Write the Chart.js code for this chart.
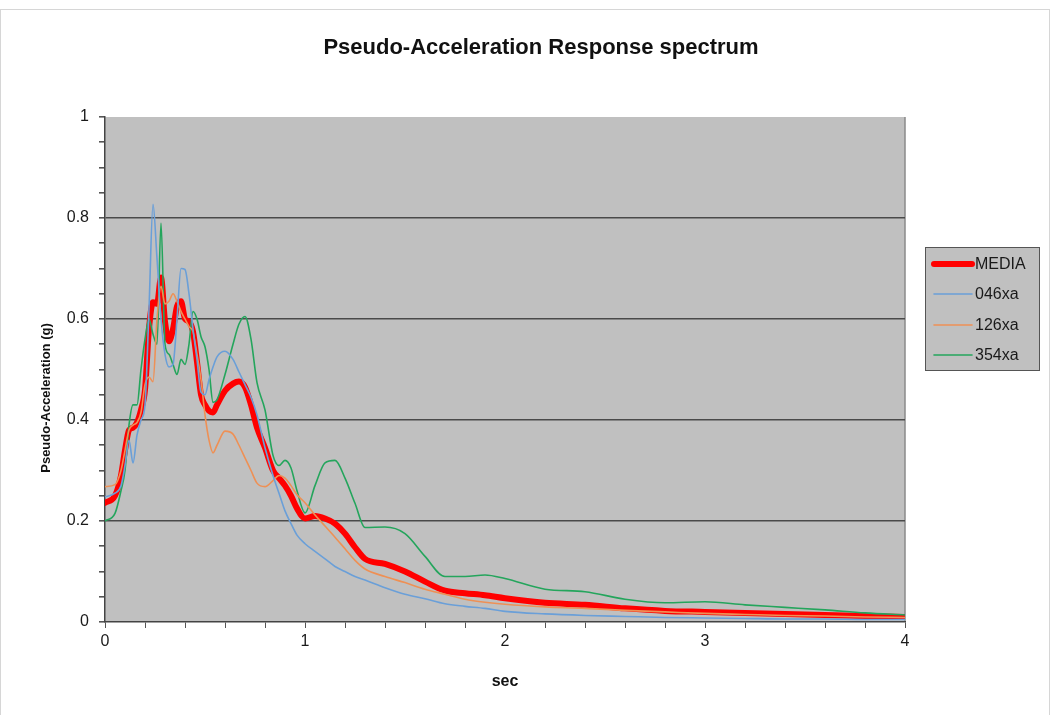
<!DOCTYPE html>
<html>
<head>
<meta charset="utf-8">
<script src="https://cdn.jsdelivr.net/npm/chart.js@4/dist/chart.umd.min.js"></script>
<style>
html,body{margin:0;padding:0;background:#ffffff;}
#wrap{position:relative;width:1059px;height:715px;}
</style>
</head>
<body>
<div id="wrap"><canvas id="c" width="1059" height="715"></canvas></div>
<script>
// Period (sec)
const periods = [0, 0.05, 0.08, 0.1, 0.12, 0.14, 0.16, 0.18, 0.2, 0.22, 0.24, 0.26, 0.28, 0.3, 0.32, 0.34, 0.36, 0.38, 0.4, 0.42, 0.44, 0.46, 0.48, 0.5, 0.52, 0.54, 0.56,
  0.6, 0.64, 0.67, 0.7, 0.73, 0.76, 0.8, 0.84, 0.87, 0.9, 0.93, 0.96, 1.0,
  1.05, 1.1, 1.15, 1.2, 1.25, 1.3,
  1.4, 1.5, 1.6, 1.7, 1.8, 1.9, 2.0,
  2.2, 2.4, 2.6, 2.8, 3.0, 3.2, 3.4, 3.6, 3.8, 4.0];

// Pseudo-acceleration (g)
const media = [0.236, 0.25, 0.29, 0.34, 0.38, 0.385, 0.395, 0.42, 0.46, 0.58, 0.633, 0.63, 0.682, 0.595, 0.556, 0.58, 0.625, 0.635, 0.6, 0.595, 0.575, 0.515, 0.45, 0.43, 0.418, 0.415, 0.43,
  0.458, 0.472, 0.476, 0.465, 0.43, 0.385, 0.345, 0.3, 0.285, 0.27, 0.25, 0.225, 0.205,
  0.21, 0.205, 0.195, 0.175, 0.148, 0.125,
  0.115, 0.1, 0.08, 0.062, 0.057, 0.053, 0.047,
  0.038, 0.034, 0.027, 0.022, 0.02, 0.018, 0.016, 0.014, 0.012, 0.01];

const s046xa = [0.248, 0.255, 0.27, 0.31, 0.36, 0.315, 0.37, 0.40, 0.43, 0.62, 0.827, 0.72, 0.6, 0.53, 0.505, 0.51, 0.6, 0.7, 0.698, 0.65, 0.58, 0.52, 0.455, 0.45, 0.48, 0.505, 0.525,
  0.536, 0.52, 0.495, 0.47, 0.445, 0.41, 0.345, 0.29, 0.255, 0.22, 0.195, 0.172, 0.155,
  0.14, 0.125, 0.11, 0.1, 0.09, 0.083,
  0.068, 0.055, 0.046, 0.036, 0.031, 0.027, 0.021,
  0.016, 0.013, 0.011, 0.009, 0.008, 0.007, 0.006, 0.006, 0.005, 0.005];

const s126xa = [0.268, 0.272, 0.3, 0.34, 0.38, 0.39, 0.395, 0.415, 0.47, 0.485, 0.476, 0.6, 0.665, 0.63, 0.635, 0.65, 0.635, 0.615, 0.6, 0.585, 0.575, 0.53, 0.48, 0.41, 0.36, 0.335, 0.35,
  0.378, 0.372, 0.35, 0.325, 0.3, 0.275, 0.268, 0.28, 0.29, 0.285, 0.27, 0.252, 0.236,
  0.212, 0.19, 0.168, 0.145, 0.122, 0.105,
  0.09, 0.078, 0.065, 0.055, 0.045, 0.039, 0.035,
  0.03, 0.027, 0.023, 0.02, 0.017, 0.015, 0.013, 0.012, 0.01, 0.009];

const s354xa = [0.2, 0.215, 0.26, 0.3, 0.39, 0.43, 0.43, 0.5, 0.56, 0.6, 0.57, 0.55, 0.79, 0.55, 0.53, 0.51, 0.49, 0.52, 0.51, 0.55, 0.615, 0.6, 0.565, 0.545, 0.5, 0.435, 0.44,
  0.49, 0.55, 0.59, 0.605, 0.56, 0.474, 0.42, 0.33, 0.31, 0.32, 0.305, 0.26, 0.216,
  0.27, 0.315, 0.32, 0.285, 0.235, 0.187,
  0.188, 0.175, 0.13, 0.09, 0.09, 0.093, 0.086,
  0.065, 0.06, 0.045, 0.038, 0.04, 0.034, 0.029, 0.024, 0.018, 0.014];

const seriesNames = ['MEDIA', '046xa', '126xa', '354xa'];
const xMajorTicks = [0, 1, 2, 3, 4];
const yMajorTicks = [0, 0.2, 0.4, 0.6, 0.8, 1];
const chartTitle = 'Pseudo-Acceleration Response spectrum';
const yAxisTitle = 'Pseudo-Acceleration (g)';
const xAxisTitle = 'sec';

const FONT = "'Liberation Sans', Arial, sans-serif";
const toPts = arr => periods.map((t, i) => ({x: t, y: arr[i]}));
const isMajor = (v, list) => list.some(m => Math.abs(m - v) < 1e-6);

const plotBg = {
  id: 'plotBg',
  beforeDraw(chart) {
    const {ctx, chartArea: a} = chart;
    ctx.save();
    ctx.strokeStyle = '#d6d6d6';
    ctx.lineWidth = 1;
    ctx.strokeRect(0.5, 9.5, 1049, 710);
    ctx.fillStyle = '#c0c0c0';
    ctx.fillRect(a.left, a.top, a.right - a.left, a.bottom - a.top);
    ctx.strokeStyle = '#8a8a8a';
    ctx.lineWidth = 1.5;
    ctx.beginPath();
    ctx.moveTo(a.right, a.top); ctx.lineTo(a.right, a.bottom);
    ctx.stroke();
    // chart title, centred on the full chart width
    ctx.fillStyle = '#111';
    ctx.font = 'bold 22px ' + FONT;
    ctx.textAlign = 'center';
    ctx.textBaseline = 'middle';
    ctx.fillText(chartTitle, 541, 48);
    // value axis title
    ctx.save();
    ctx.translate(46, 398);
    ctx.rotate(-Math.PI / 2);
    ctx.font = 'bold 13px ' + FONT;
    ctx.fillText(yAxisTitle, 0, 0);
    ctx.restore();
    ctx.restore();
  }
};

const boxLegend = {
  id: 'boxLegend',
  afterDraw(chart) {
    const {ctx} = chart;
    const x = 925, y = 247, w = 114, h = 123;
    ctx.save();
    ctx.fillStyle = '#c0c0c0';
    ctx.fillRect(x, y, w, h);
    ctx.strokeStyle = '#555555';
    ctx.lineWidth = 1;
    ctx.strokeRect(x + 0.5, y + 0.5, w, h);
    const rows = [264, 294, 325, 355];
    chart.data.datasets.forEach((ds, i) => {
      const ry = rows[i];
      ctx.strokeStyle = ds.borderColor;
      ctx.lineWidth = ds.borderWidth;
      ctx.lineCap = 'round';
      ctx.beginPath();
      ctx.moveTo(934, ry); ctx.lineTo(972, ry);
      ctx.stroke();
      ctx.fillStyle = '#1a1a1a';
      ctx.font = '16px ' + FONT;
      ctx.textBaseline = 'middle';
      ctx.textAlign = 'left';
      ctx.fillText(ds.label, 975, ry + 1);
    });
    ctx.restore();
  }
};

new Chart(document.getElementById('c'), {
  type: 'line',
  data: {
    datasets: [
      {label: seriesNames[0], data: toPts(media), borderColor: '#ff0000', borderWidth: 6, order: 10},
      {label: seriesNames[1], data: toPts(s046xa), borderColor: '#6a9fd8', borderWidth: 1.6, order: 1},
      {label: seriesNames[2], data: toPts(s126xa), borderColor: '#ee9055', borderWidth: 1.6, order: 2},
      {label: seriesNames[3], data: toPts(s354xa), borderColor: '#24a55c', borderWidth: 1.6, order: 3}
    ]
  },
  options: {
    responsive: false,
    animation: false,
    devicePixelRatio: 1,
    layout: {padding: {top: 117, right: 154, bottom: 0, left: 0}},
    elements: {
      point: {radius: 0, hoverRadius: 0},
      line: {cubicInterpolationMode: 'monotone', fill: false, borderJoinStyle: 'round', borderCapStyle: 'round'}
    },
    plugins: {
      legend: {display: false},
      tooltip: {enabled: false},
      title: {display: false}
    },
    scales: {
      x: {
        type: 'linear', min: 0, max: 4,
        afterFit(s) { s.height = 93; },
        ticks: {
          stepSize: 0.2, autoSkip: false, maxRotation: 0, padding: 4,
          color: '#1a1a1a', font: {family: FONT, size: 16},
          callback: v => isMajor(v, xMajorTicks) ? String(Math.round(v)) : ''
        },
        grid: {drawOnChartArea: false, drawTicks: true, tickLength: 6, color: '#555', tickColor: '#555', lineWidth: 1},
        border: {color: '#444', width: 1.5},
        title: {display: true, text: xAxisTitle, color: '#111', font: {family: FONT, size: 16, weight: 'bold'}, padding: {top: 0, bottom: 24}}
      },
      y: {
        min: 0, max: 1,
        afterFit(s) { s.width = 105; },
        ticks: {
          stepSize: 0.05, autoSkip: false, padding: 10,
          color: '#1a1a1a', font: {family: FONT, size: 16},
          callback: v => isMajor(v, yMajorTicks) ? String(Math.round(v * 10) / 10) : ''
        },
        grid: {
          drawTicks: true, tickLength: 6, tickColor: '#555', lineWidth: 1.6,
          color: c => (c.tick && isMajor(c.tick.value, yMajorTicks) && c.tick.value > 0.01 && c.tick.value < 0.99) ? '#4a4a4a' : 'rgba(0,0,0,0)'
        },
        border: {color: '#444', width: 1.5},
        title: {display: false}
      }
    }
  },
  plugins: [plotBg, boxLegend]
});
</script>
</body>
</html>
